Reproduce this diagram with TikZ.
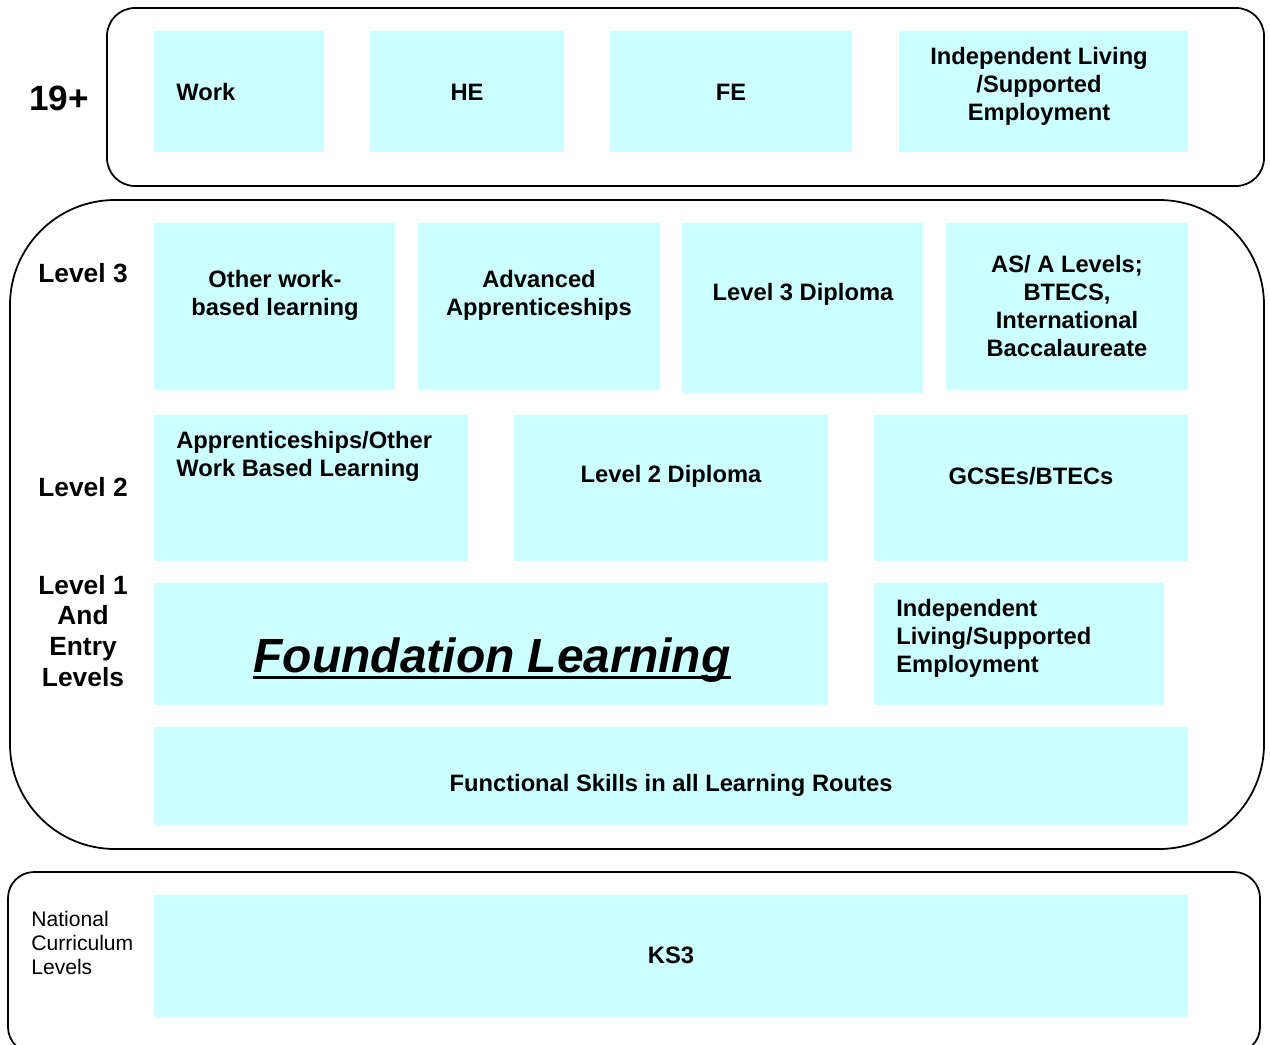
\documentclass[tikz,border=0pt]{standalone}
\usepackage{fontspec}
\setmainfont{Liberation Sans}
\usepackage{tikz}
\usepackage{xcolor}
\usetikzlibrary{positioning}

\definecolor{cellcyan}{HTML}{CCFFFF}

\tikzset{
    cell/.style={fill=cellcyan},
    band/.style={draw, line width=1pt},
    celltext/.style={inner sep=0pt, align=center, font=\fontsize{13.5}{15.9}\selectfont\bfseries},
    leveltext/.style={inner sep=0pt, align=center, font=\fontsize{15}{17.6}\selectfont\bfseries}
}

\begin{document}
\begin{tikzpicture}[x=0.02cm, y=-0.02cm, line cap=round, line join=round]
    % page
    \clip (0,0) rectangle (1270,1044);

    % outer bands
    \draw[band, rounded corners=0.56cm] (107,8) rectangle (1264,186);
    \draw[band, rounded corners=2.1cm] (10,200) rectangle (1264,849);
    \draw[band, rounded corners=0.52cm] (8,872) rectangle (1260,1053);

    % 19+ row
    \fill[cell] (154,31) rectangle (324,152);
    \fill[cell] (370,31) rectangle (564,152);
    \fill[cell] (610,31) rectangle (852,152);
    \fill[cell] (899,31) rectangle (1188,152);
    \node[leveltext, font=\fontsize{20}{24}\selectfont\bfseries] (age) at (59,98) {19+};
    \node[celltext, anchor=west] (work) at (176,92) {Work};
    \node[celltext] (he) at (467,92) {HE};
    \node[celltext] (fe) at (731,92) {FE};
    \node[celltext] (indliving) at (1039,86) {Independent Living\\/Supported\\Employment};

    % level 3 row
    \fill[cell] (154,223) rectangle (395,390);
    \fill[cell] (418,223) rectangle (660,390);
    \fill[cell] (682,223) rectangle (923,393);
    \fill[cell] (946,223) rectangle (1188,390);
    \node[leveltext] (lvthree) at (83,273) {Level 3};
    \node[celltext] (otherwbl) at (275,295) {Other work-\\based learning};
    \node[celltext] (advapp) at (539,295) {Advanced\\Apprenticeships};
    \node[celltext] (dipthree) at (803,294) {Level 3 Diploma};
    \node[celltext] (alevels) at (1067,306) {AS/ A Levels;\\BTECS,\\International\\Baccalaureate};

    % level 2 row
    \fill[cell] (154,415) rectangle (468,561);
    \fill[cell] (514,415) rectangle (828,561);
    \fill[cell] (874,415) rectangle (1188,561);
    \node[leveltext] (lvtwo) at (83,487) {Level 2};
    \node[celltext, anchor=west, align=left] (appother) at (176,456) {Apprenticeships/Other\\Work Based Learning};
    \node[celltext] (diptwo) at (671,476) {Level 2 Diploma};
    \node[celltext] (gcse) at (1031,476) {GCSEs/BTECs};

    % level 1 and entry row
    \fill[cell] (154,583) rectangle (828,705);
    \fill[cell] (874,583) rectangle (1164,705);
    \node[leveltext] (lvone) at (83,631) {Level 1\\And\\Entry\\Levels};
    \node[inner sep=0pt, font=\fontsize{27.3}{32}\selectfont\bfseries\itshape] (found) at (492,660) {Foundation Learning};
    \draw[line width=1.7pt, line cap=butt] ([yshift=-3pt]found.base west) -- ([yshift=-3pt]found.base east);
    \node[celltext, anchor=west, align=left] (indsupp) at (896,638) {Independent\\Living/Supported\\Employment};

    % functional skills
    \fill[cell] (154,727) rectangle (1188,825);
    \node[celltext] (funcskills) at (671,785) {Functional Skills in all Learning Routes};

    % national curriculum
    \fill[cell] (154,895) rectangle (1188,1017);
    \node[inner sep=0pt, anchor=west, align=left, font=\fontsize{12}{13.6}\selectfont] (natcurr) at (31,943) {National\\Curriculum\\Levels};
    \node[celltext] (ksthree) at (671,955) {KS3};
\end{tikzpicture}
\end{document}
